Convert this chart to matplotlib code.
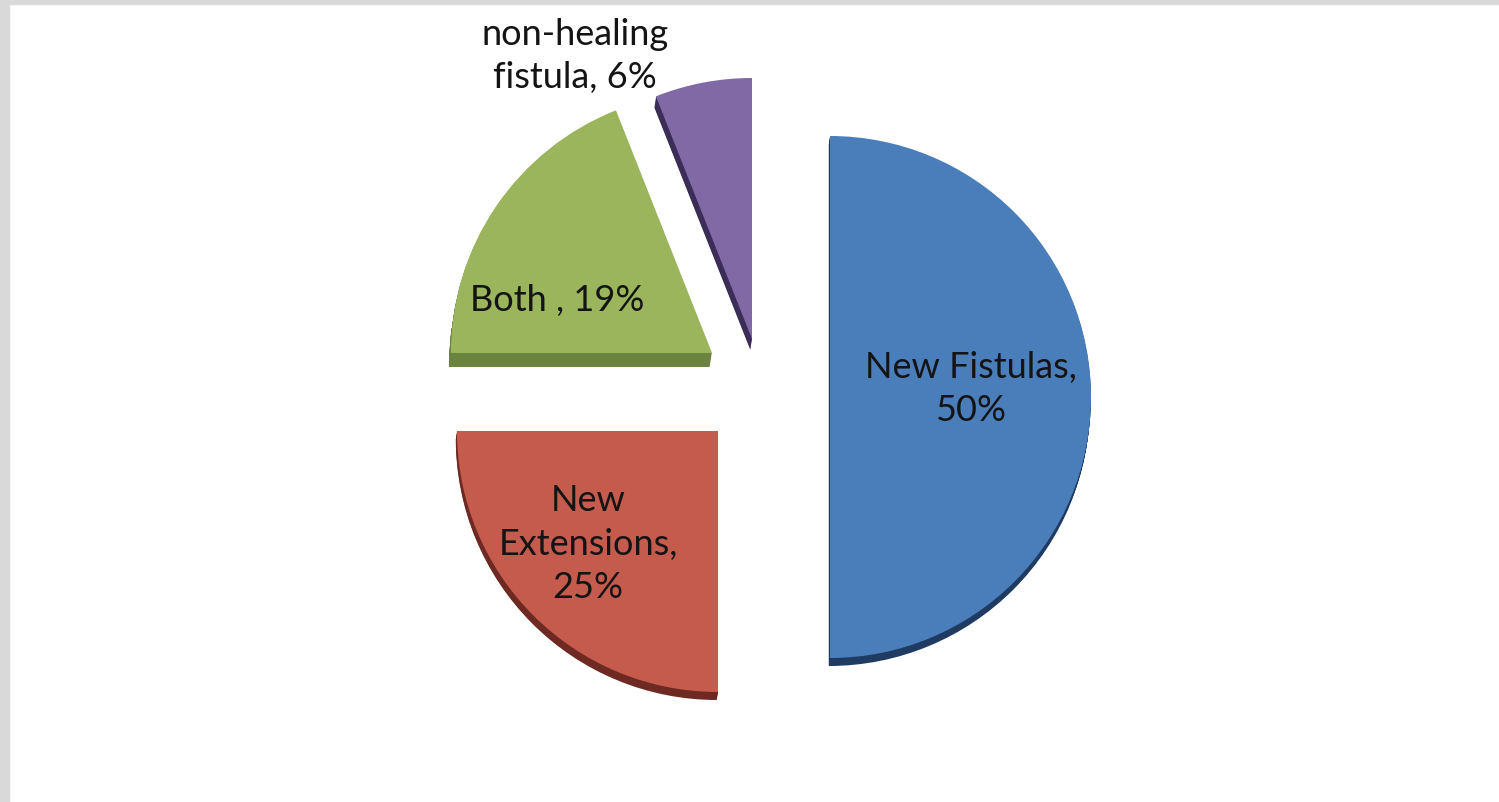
import numpy as np
import matplotlib
matplotlib.use("Agg")
import matplotlib.pyplot as plt
from matplotlib.patches import Wedge, Rectangle

# Outcome categories and their shares (%)
categories = ["New Fistulas", "New Extensions", "Both", "non-healing fistula"]
shares = [50, 25, 19, 6]
label_templates = ["New Fistulas,\n{}%", "New\nExtensions,\n{}%", "Both , {}%", "non-healing\nfistula, {}%"]

face_colors = ["#4a7ebb", "#c55b4c", "#9bb55c", "#8069a5"]
side_colors = ["#1f3b62", "#6e2a22", "#6b8340", "#3b2d57"]

W, H = 1499, 803
fig = plt.figure(figsize=(W / 100, H / 100), dpi=100)
ax = fig.add_axes([0, 0, 1, 1])
ax.set_xlim(0, W)
ax.set_ylim(0, H)
ax.set_aspect("equal")
ax.axis("off")

# Grey frame strips (top and left)
fig.patches.append(Rectangle((0, 1 - 5 / H), 1, 5 / H, transform=fig.transFigure,
                             color="#d9d9d9", zorder=0))
fig.patches.append(Rectangle((0, 0), 9 / W, 1, transform=fig.transFigure,
                             color="#d9d9d9", zorder=0))

# Pie layout (pixel units, y up)
cx, cy = 770, 408
radius = 261
offsets = [(60, -3), (-52, -37), (-58, 41), (-18, 55)]
depths = [8, 8, 14, 11]
label_pos = [(971, 414), (588, 259), (557, 502), (575, 747)]

start = 90.0
total = float(sum(shares))
for i, v in enumerate(shares):
    sweep = 360.0 * v / total
    t2 = start
    t1 = start - sweep
    start = t1
    ox, oy = cx + offsets[i][0], cy + offsets[i][1]
    # extruded side
    for k in np.linspace(depths[i], 1, depths[i]):
        ax.add_patch(Wedge((ox - 0.15 * k, oy - k), radius, t1, t2,
                           facecolor=side_colors[i], edgecolor="none", zorder=1))
    ax.add_patch(Wedge((ox, oy), radius, t1, t2, facecolor=face_colors[i],
                       edgecolor="none", zorder=2))
    ax.text(label_pos[i][0], label_pos[i][1], label_templates[i].format(v),
            ha="center", va="center", fontsize=26, family="Lato",
            color="#141414", linespacing=1.4, zorder=3)

fig.savefig("out.png", dpi=100, facecolor="white")
